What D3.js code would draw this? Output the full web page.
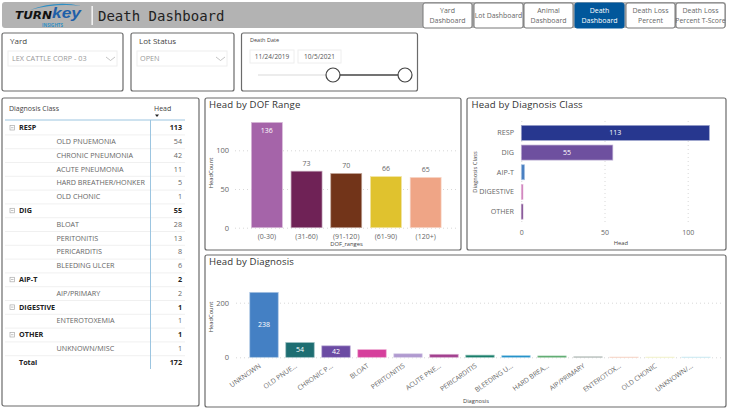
<!DOCTYPE html>
<html>
<head>
<meta charset="utf-8">
<script src="https://cdn.jsdelivr.net/npm/d3@7"></script>
<style>
body { margin: 0; background: #fff; }
svg { display: block; }
text { font-family: "Open Sans", sans-serif; }
.axis path, .axis line { display: none; }
.grid line { stroke: #d8d8d8; stroke-width: 1; stroke-dasharray: 1 3; }
.grid path { display: none; }
</style>
</head>
<body>
<script>
// chart values
var dofRanges = ["(0-30)", "(31-60)", "(91-120)", "(61-90)", "(120+)"];
var dofHead = [136, 73, 70, 66, 65];
var dofColors = ["#a564a9", "#6f2256", "#723419", "#e0c22e", "#efa586"];

var classNames = ["RESP", "DIG", "AIP-T", "DIGESTIVE", "OTHER"];
var classHead = [113, 55, 2, 1, 1];
var classColors = ["#27378f", "#6e509f", "#4a80c2", "#c565ad", "#6a2c7e"];

var diagnosisLabels = ["UNKNOWN", "OLD PNUE...", "CHRONIC P...", "BLOAT", "PERITONITIS", "ACUTE PNE...", "PERICARDITIS", "BLEEDING U...", "HARD BREA...", "AIP/PRIMARY", "ENTEROTOX...", "OLD CHONIC", "UNKNOWN/..."];
var diagnosisHead = [238, 54, 42, 28, 13, 11, 8, 6, 5, 2, 1, 1, 1];
var diagnosisColors = ["#4480c4", "#1e6e72", "#6b4ba3", "#d63f9c", "#b09ad0", "#a3408f", "#127a66", "#1e8fc8", "#3f9c55", "#7d8c86", "#f0b8a0", "#e8e8a8", "#a8dce8"];

var tableRows = ["RESP", "OLD PNUEMONIA", "CHRONIC PNEUMONIA", "ACUTE PNEUMONIA", "HARD BREATHER/HONKER", "OLD CHONIC", "DIG", "BLOAT", "PERITONITIS", "PERICARDITIS", "BLEEDING ULCER", "AIP-T", "AIP/PRIMARY", "DIGESTIVE", "ENTEROTOXEMIA", "OTHER", "UNKNOWN/MISC", "Total"];
var tableValues = [113, 54, 42, 11, 5, 1, 55, 28, 13, 8, 6, 2, 2, 1, 1, 1, 1, 172];
var tableLevels = ["class", "item", "item", "item", "item", "item", "class", "item", "item", "item", "item", "class", "item", "class", "item", "class", "item", "total"];

var tabLabels = [["Yard", "Dashboard"], ["Lot Dashboard"], ["Animal", "Dashboard"], ["Death", "Dashboard"], ["Death Loss", "Percent"], ["Death Loss", "Percent T-Score"]];
var tabLefts = [423, 474, 524, 575, 626, 676];

var svg = d3.select("body").append("svg").attr("width", 730).attr("height", 410);
var textColor = "#666";

function panel(x, y, w, h) {
	svg.append("rect")
		.attr("x", x).attr("y", y).attr("width", w).attr("height", h).attr("rx", 2)
		.attr("fill", "#fff").attr("stroke", "#6b6b6b").attr("stroke-width", 1.2);
}

function label(x, y, str, size, color, anchor, weight) {
	return svg.append("text")
		.attr("x", x).attr("y", y).text(str)
		.attr("font-size", size + "px")
		.attr("fill", color || textColor)
		.attr("text-anchor", anchor || "start")
		.attr("font-weight", weight || "normal")
		.attr("dominant-baseline", "middle");
}

function chartTitle(x, y, str) {
	label(x, y, str, 9.6, "#333").attr("font-weight", 500).style("letter-spacing", "0.15px");
}

function barStroke(c) {
	return d3.interpolateRgb(c, "#fff")(0.55);
}

//header band
svg.append("rect").attr("x", 2).attr("y", 2).attr("width", 724).attr("height", 26).attr("rx", 3).attr("fill", "#b3b3b3");
svg.append("path").attr("d", "M30 10 Q56 0 81 6 Q56 3 30 10 Z").attr("fill", "#2f8fc4");
label(15, 16, "TURN", 10.5, "#111", "start", 900)
	.attr("textLength", 37).attr("lengthAdjust", "spacingAndGlyphs")
	.style("font-family", "'DejaVu Sans', sans-serif").style("font-style", "italic");
label(52, 14.5, "key", 14.5, "#1f5fa8", "start", 700)
	.attr("textLength", 29).attr("lengthAdjust", "spacingAndGlyphs")
	.style("font-family", "'Liberation Sans', sans-serif").style("font-style", "italic");
label(42, 25.3, "INSIGHTS", 4.5, "#2f8fc4", "start", 700);
svg.append("rect").attr("x", 91.5).attr("y", 6).attr("width", 1.3).attr("height", 19).attr("fill", "#fff");
label(98, 16.5, "Death Dashboard", 14, "#222").style("font-family", "'DejaVu Sans Mono', monospace");

//nav buttons
tabLabels.forEach(function (lines, i) {
	var active = i == 3;
	svg.append("rect")
		.attr("x", tabLefts[i]).attr("y", 3).attr("width", 49).attr("height", 25).attr("rx", 2)
		.attr("fill", active ? "#01579b" : "#fff").attr("stroke", active ? "#01579b" : "#777").attr("stroke-width", 1);
	lines.forEach(function (t, j) {
		var y = lines.length == 1 ? 16 : 11.5 + j * 9.5;
		label(tabLefts[i] + 24.5, y, t, t.length > 12 ? 6.9 : 7, active ? "#fff" : "#666", "middle");
	});
});

//slicers
panel(2, 33, 121, 58);
label(10, 42, "Yard", 8, "#444");
svg.append("rect").attr("x", 8).attr("y", 51).attr("width", 109).attr("height", 15).attr("fill", "none").attr("stroke", "#eee");
label(12, 59, "LEX CATTLE CORP - 03", 7.3, "#999");
svg.append("path").attr("d", "M106 57 L110.5 60.5 L115 57").attr("fill", "none").attr("stroke", "#aaa").attr("stroke-width", 0.7);

panel(131, 33, 103, 58);
label(139, 42, "Lot Status", 8, "#444");
svg.append("rect").attr("x", 137).attr("y", 51).attr("width", 90).attr("height", 15).attr("fill", "none").attr("stroke", "#eee");
label(140, 59, "OPEN", 7.3, "#999");
svg.append("path").attr("d", "M216 57 L220.5 60.5 L225 57").attr("fill", "none").attr("stroke", "#aaa").attr("stroke-width", 0.7);

panel(241.5, 33, 176, 58);
label(250, 41, "Death Date", 5.5, "#444");
svg.append("rect").attr("x", 250).attr("y", 50).attr("width", 44).attr("height", 13).attr("fill", "none").attr("stroke", "#eee");
svg.append("rect").attr("x", 298).attr("y", 50).attr("width", 43).attr("height", 13).attr("fill", "none").attr("stroke", "#eee");
label(272, 57, "11/24/2019", 6.5, "#555", "middle");
label(319.5, 57, "10/5/2021", 6.5, "#555", "middle");
svg.append("line").attr("x1", 258).attr("x2", 333).attr("y1", 75).attr("y2", 75).attr("stroke", "#e6e6e6").attr("stroke-width", 1.5);
svg.append("line").attr("x1", 333).attr("x2", 405).attr("y1", 75).attr("y2", 75).attr("stroke", "#444").attr("stroke-width", 1.5);
[333, 405].forEach(function (cx) {
	svg.append("circle").attr("cx", cx).attr("cy", 75).attr("r", 7).attr("fill", "#fff").attr("stroke", "#444").attr("stroke-width", 1.2);
});

//matrix table
panel(2, 98, 197, 308);
var rowY = d3.scalePoint().domain(d3.range(tableRows.length)).range([128, 362.6]);
label(9, 109.5, "Diagnosis Class", 7, "#444");
label(154, 109.5, "Head", 7, "#444");
svg.append("path").attr("d", "M155 114.5 L159 114.5 L157 117 Z").attr("fill", "#222");
tableRows.forEach(function (name, i) {
	var y = rowY(i), level = tableLevels[i], bold = level != "item";
	if (i < tableRows.length - 1) {
		svg.append("line").attr("x1", 5).attr("x2", 185).attr("y1", y + 6.9).attr("y2", y + 6.9).attr("stroke", "#f0f0f0");
	}
	if (level == "class") {
		svg.append("rect").attr("x", 10).attr("y", y - 2.5).attr("width", 4.5).attr("height", 4.5).attr("fill", "none").attr("stroke", "#aaa").attr("stroke-width", 0.7);
		svg.append("line").attr("x1", 11).attr("x2", 13.5).attr("y1", y - 0.3).attr("y2", y - 0.3).attr("stroke", "#999").attr("stroke-width", 0.6);
	}
	label(level == "item" ? 56.5 : 19, y + 0.3, name, 7.2, bold ? "#222" : "#666", "start", bold ? 700 : 400);
	label(182, y + 0.3, tableValues[i], 7.2, bold ? "#222" : "#666", "end", bold ? 700 : 400);
});
svg.append("line").attr("x1", 5).attr("x2", 185).attr("y1", 120).attr("y2", 120).attr("stroke", "#9cc5e0").attr("stroke-width", 1);
svg.append("line").attr("x1", 150.5).attr("x2", 150.5).attr("y1", 120).attr("y2", 369).attr("stroke", "#9cc5e0").attr("stroke-width", 1);

//Head by DOF Range
panel(205, 98, 256, 152);
chartTitle(209, 105, "Head by DOF Range");
var dofX = d3.scaleBand().domain(dofRanges).range([247, 445.5]).paddingInner(0.22).paddingOuter(0.11);
var dofY = d3.scaleLinear().domain([0, 100]).range([227.7, 150.3]);
var dofG = svg.append("g");
dofG.append("g").attr("class", "grid").attr("transform", "translate(235,0)")
	.call(d3.axisLeft(dofY).tickValues([0, 50, 100]).tickSize(-223).tickFormat(""));
dofG.append("g").attr("class", "axis").attr("transform", "translate(232,0)")
	.call(d3.axisLeft(dofY).tickValues([0, 50, 100]).tickSize(0))
	.selectAll("text").attr("font-size", "7.5px").attr("fill", textColor);
dofG.append("g").attr("class", "axis").attr("transform", "translate(0,231)")
	.call(d3.axisBottom(dofX).tickSize(0).tickPadding(3))
	.selectAll("text").attr("font-size", "7px").attr("fill", textColor);
dofG.selectAll("rect.bar").data(dofHead).enter().append("rect")
	.attr("class", "bar")
	.attr("x", function (d, i) { return dofX(dofRanges[i]); })
	.attr("y", function (d) { return dofY(d); })
	.attr("width", dofX.bandwidth())
	.attr("height", function (d) { return dofY(0) - dofY(d); })
	.attr("fill", function (d, i) { return dofColors[i]; })
	.attr("stroke", function (d, i) { return barStroke(dofColors[i]); })
	.attr("stroke-width", 0.7);
dofHead.forEach(function (d, i) {
	var inside = d > 100;
	label(dofX(dofRanges[i]) + dofX.bandwidth() / 2, inside ? dofY(d) + 8.5 : dofY(d) - 7, d, 7, inside ? "#fff" : textColor, "middle");
});
label(346.5, 244.5, "DOF_ranges", 5.8, "#444", "middle");
label(211, 173, "HeadCount", 5.8, "#444", "middle").attr("transform", "rotate(-90 211 173)");

//Head by Diagnosis Class
panel(467, 98, 259, 152);
chartTitle(471.5, 105, "Head by Diagnosis Class");
var classY = d3.scaleBand().domain(classNames).range([123, 221.5]).paddingInner(0.235).paddingOuter(0.12);
var classX = d3.scaleLinear().domain([0, 100]).range([521.3, 687.7]);
var classG = svg.append("g");
classG.append("g").attr("class", "grid").attr("transform", "translate(0,222)")
	.call(d3.axisBottom(classX).tickValues([0, 50, 100]).tickSize(-102).tickFormat(""));
classG.append("g").attr("class", "axis").attr("transform", "translate(0,227)")
	.call(d3.axisBottom(classX).tickValues([0, 50, 100]).tickSize(0).tickPadding(3))
	.selectAll("text").attr("font-size", "7px").attr("fill", textColor);
classG.append("g").attr("class", "axis").attr("transform", "translate(517,0)")
	.call(d3.axisLeft(classY).tickSize(0))
	.selectAll("text").attr("font-size", "7.2px").attr("fill", textColor);
classG.selectAll("rect.bar").data(classHead).enter().append("rect")
	.attr("class", "bar")
	.attr("x", classX(0))
	.attr("y", function (d, i) { return classY(classNames[i]); })
	.attr("width", function (d) { return classX(d) - classX(0); })
	.attr("height", classY.bandwidth())
	.attr("fill", function (d, i) { return classColors[i]; })
	.attr("stroke", function (d, i) { return barStroke(classColors[i]); })
	.attr("stroke-width", 0.7);
classHead.forEach(function (d, i) {
	if (d > 10) label((classX(d) + classX(0)) / 2, classY(classNames[i]) + classY.bandwidth() / 2 + 0.5, d, 7, "#fff", "middle");
});
label(621, 243.5, "Head", 5.8, "#444", "middle");
label(475, 172, "Diagnosis Class", 5.8, "#444", "middle").attr("transform", "rotate(-90 475 172)");

//Head by Diagnosis
panel(205, 255, 521, 152);
chartTitle(209, 262.5, "Head by Diagnosis");
var diagX = d3.scaleBand().domain(diagnosisLabels).range([246, 714]).paddingInner(0.21).paddingOuter(0.105);
var diagY = d3.scaleLinear().domain([0, 200]).range([357.3, 302.7]);
var diagG = svg.append("g");
diagG.append("g").attr("class", "grid").attr("transform", "translate(236,0)")
	.call(d3.axisLeft(diagY).tickValues([0, 200]).tickSize(-486).tickFormat(""));
diagG.append("g").attr("class", "axis").attr("transform", "translate(232,0)")
	.call(d3.axisLeft(diagY).tickValues([0, 200]).tickSize(0))
	.selectAll("text").attr("font-size", "7.5px").attr("fill", textColor);
diagG.append("g").attr("class", "axis").attr("transform", "translate(0,361)")
	.call(d3.axisBottom(diagX).tickSize(0).tickPadding(0))
	.selectAll("text")
	.attr("font-size", "6.8px").attr("fill", textColor)
	.attr("text-anchor", "end")
	.attr("y", 0).attr("dy", "0.35em")
	.attr("transform", "translate(-4,4) rotate(-35)");
diagG.selectAll("rect.bar").data(diagnosisHead).enter().append("rect")
	.attr("class", "bar")
	.attr("x", function (d, i) { return diagX(diagnosisLabels[i]); })
	.attr("y", function (d) { return diagY(d); })
	.attr("width", diagX.bandwidth())
	.attr("height", function (d) { return Math.max(diagY(0) - diagY(d), 0.6); })
	.attr("fill", function (d, i) { return diagnosisColors[i]; })
	.attr("stroke", function (d, i) { return barStroke(diagnosisColors[i]); })
	.attr("stroke-width", 0.7);
diagnosisHead.forEach(function (d, i) {
	if (d > 30) label(diagX(diagnosisLabels[i]) + diagX.bandwidth() / 2, (diagY(d) + diagY(0)) / 2 + 0.5, d, 7, "#fff", "middle");
});
label(476, 401.5, "Diagnosis", 5.8, "#444", "middle");
label(211, 317, "HeadCount", 5.8, "#444", "middle").attr("transform", "rotate(-90 211 317)");
</script>
</body>
</html>
